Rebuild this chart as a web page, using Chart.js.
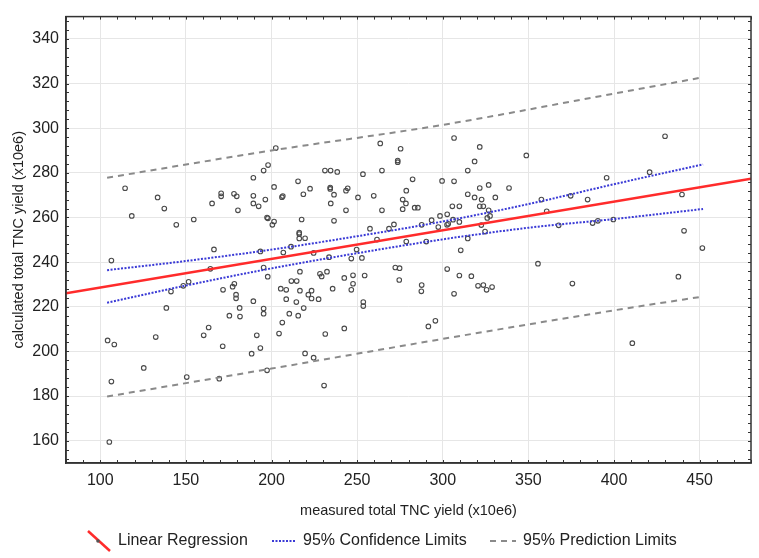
<!DOCTYPE html>
<html>
<head>
<meta charset="utf-8">
<script src="https://cdn.jsdelivr.net/npm/chart.js@4.4.1/dist/chart.umd.min.js"></script>
<style>
  html, body { margin: 0; padding: 0; background: #fff; }
  #wrap { width: 759px; height: 558px; }
</style>
</head>
<body>
<div id="wrap"><canvas id="myChart"></canvas></div>
<script>
// measured vs calculated TNC yield (x10e6)
const measured = [
  114.5, 133.5, 137.4, 118.4, 144.4, 154.6, 165.3, 170.6, 170.6, 178.1, 179.7, 180.4,
  189.4, 189.4, 189.4, 192.5, 196.4, 195.4, 198.0, 197.4, 106.5, 166.4, 164.3, 193.5,
  195.4, 197.8, 151.6, 148.5, 171.7, 178.3, 177.3, 141.3, 138.6, 104.3, 108.2, 132.4,
  125.4, 106.5, 150.5, 169.5, 105.3, 179.3, 179.3, 189.4, 181.4, 175.4, 181.6, 195.4,
  195.4, 163.3, 160.4, 191.4, 171.5, 193.5, 188.4, 197.4,
  202.5, 201.5, 215.5, 222.5, 218.6, 206.1, 206.6, 231.2, 234.5, 238.4, 234.3, 234.3,
  236.5, 234.6, 244.5, 243.5, 253.4, 250.5, 259.7, 263.5, 264.5, 243.5, 236.5, 264.5,
  275.4, 273.7, 273.7, 282.4, 278.7, 276.6, 278.5, 276.6, 283.6, 285.5, 299.6, 197.9,
  201.5, 200.5, 217.6, 216.2, 216.2, 216.2, 219.6, 211.4, 206.9, 224.6, 233.6, 249.7,
  246.6, 252.8, 257.5, 261.6, 268.6, 271.5, 278.7, 287.7, 290.4, 293.5, 298.4, 297.4,
  216.6, 228.3, 229.3, 232.4, 211.6, 214.7, 242.5, 247.6, 247.6, 254.4, 272.3, 274.8,
  274.6, 287.7, 205.4, 208.6, 216.6, 223.4, 235.7, 246.6, 287.5,
  208.6, 214.5, 221.5, 223.4, 227.5, 218.8, 210.4, 215.6, 206.3, 204.4, 231.4, 242.5,
  253.6, 253.6, 219.6, 224.6, 230.7, 291.6, 295.7,
  306.6, 321.6, 318.6, 314.6, 348.8, 306.6, 321.6, 326.8, 338.7, 314.6, 318.6, 322.7,
  330.7, 305.6, 309.7, 321.6, 323.7, 326.8, 302.6, 306.0, 303.2, 302.5, 309.7, 327.6,
  326.0, 322.5, 324.7, 314.6, 310.5, 357.6, 360.7, 367.7, 374.7, 384.6, 395.7, 387.5,
  390.6, 399.6, 355.6, 375.7, 302.6, 309.7, 316.7, 320.6, 323.7, 325.6, 328.8, 306.6,
  429.8, 420.8, 439.7, 440.9, 451.6, 437.6, 410.7
];
const calculated = [
  273.1, 269.0, 264.0, 260.7, 256.7, 259.1, 266.3, 269.5, 270.8, 270.6, 269.5, 263.2,
  277.8, 269.7, 266.3, 265.0, 268.0, 281.0, 283.5, 260.0, 240.7, 245.7, 237.0, 244.8,
  237.6, 233.5, 231.2, 229.4, 227.6, 230.3, 229.0, 226.8, 219.5, 204.9, 203.1, 206.4,
  192.6, 186.5, 188.5, 187.8, 159.4, 225.4, 223.8, 222.5, 219.5, 216.0, 215.6, 219.2,
  216.9, 210.7, 207.2, 207.2, 202.3, 201.5, 199.0, 191.5,
  291.1, 273.7, 276.2, 272.9, 270.4, 269.1, 269.6, 281.0, 281.0, 280.4, 273.4, 272.8,
  270.2, 266.3, 273.1, 272.0, 279.4, 269.0, 269.7, 293.2, 281.0, 263.2, 258.5, 263.2,
  290.8, 284.8, 285.5, 277.1, 272.0, 268.0, 266.3, 263.7, 264.4, 264.4, 276.4, 259.6,
  258.2, 256.7, 259.1, 253.2, 252.6, 250.6, 250.7, 246.9, 244.3, 244.1, 242.2, 245.6,
  241.6, 241.9, 255.0, 250.1, 255.0, 256.9, 249.2, 256.7, 249.2, 258.8, 260.7, 255.7,
  235.7, 234.8, 233.6, 235.7, 231.5, 231.5, 232.9, 234.1, 230.3, 234.0, 237.6, 237.3,
  232.0, 229.7, 228.1, 227.6, 227.2, 227.2, 228.1, 227.6, 226.9,
  223.4, 222.1, 225.4, 223.7, 223.4, 219.4, 216.9, 216.0, 212.9, 208.0, 207.8, 210.3,
  222.1, 220.3, 199.1, 197.2, 184.7, 211.2, 213.7,
  295.6, 291.6, 285.1, 281.0, 287.8, 276.2, 273.2, 274.6, 273.2, 270.4, 269.0, 268.0,
  269.0, 265.0, 265.0, 265.0, 265.0, 263.2, 261.4, 259.0, 257.2, 256.7, 258.0, 260.7,
  259.8, 256.6, 253.7, 250.6, 245.3, 268.0, 262.8, 256.5, 269.7, 268.0, 277.8, 257.5,
  258.5, 259.1, 239.3, 230.4, 236.9, 234.0, 233.7, 229.4, 229.7, 227.6, 228.8, 225.8,
  296.4, 280.3, 270.3, 254.0, 246.3, 233.5, 203.7
];

// fitted line and limits
const fitX = [80, 480];
const fitY = [226.0, 277.4];
const limX = [104, 150, 200, 250, 300, 350, 400, 452];
const confUpper = [236.4, 240.5, 245.6, 251.6, 258.2, 266.0, 274.9, 283.8];
const confLower = [221.8, 229.5, 237.2, 244.0, 250.2, 255.4, 259.3, 263.8];
const predX = [104, 200, 300, 400, 452];
const predUpper = [277.8, 290.0, 301.5, 315.5, 322.8];
const predLower = [179.8, 192.3, 205.6, 218.4, 224.6];

const xTicks = [100, 150, 200, 250, 300, 350, 400, 450];
const yTicks = [160, 180, 200, 220, 240, 260, 280, 300, 320, 340];

const seriesNames = ['Linear Regression', '95% Confidence Limits', '95% Prediction Limits'];

const FONT = "'Liberation Sans', Arial, sans-serif";
const pts = (xs, ys) => xs.map((x, i) => ({ x: x, y: ys[i] }));

const lineSet = (label, data, color, width, dash, order) => ({
  label: label,
  data: data,
  showLine: true,
  borderColor: color,
  borderWidth: width,
  borderDash: dash,
  pointRadius: 0,
  cubicInterpolationMode: 'monotone',
  fill: false,
  order: order
});

// frame on all four sides, inward minor ticks, and the legend row
const framePlugin = {
  id: 'frame',
  afterDraw(chart) {
    const { ctx, chartArea: a, scales } = chart;
    const x = scales.x, y = scales.y;
    ctx.save();
    ctx.strokeStyle = '#333';
    ctx.lineWidth = 1.5;
    ctx.strokeRect(a.left, a.top, a.right - a.left, a.bottom - a.top);

    ctx.lineWidth = 1;
    ctx.beginPath();
    for (let v = 152; v <= 348; v += 4) {
      const py = Math.round(y.getPixelForValue(v)) + 0.5;
      ctx.moveTo(a.left, py); ctx.lineTo(a.left + 3, py);
      ctx.moveTo(a.right, py); ctx.lineTo(a.right - 3, py);
    }
    for (let v = 80; v <= 480; v += 10) {
      const px = Math.round(x.getPixelForValue(v)) + 0.5;
      ctx.moveTo(px, a.top); ctx.lineTo(px, a.top + 3);
      ctx.moveTo(px, a.bottom); ctx.lineTo(px, a.bottom - 3);
    }
    ctx.stroke();

    // legend
    const ly = 541;
    ctx.font = '16px ' + FONT;
    ctx.fillStyle = '#222';
    ctx.textBaseline = 'middle';
    ctx.textAlign = 'left';

    ctx.strokeStyle = '#ff2b2b';
    ctx.lineWidth = 2.5;
    ctx.setLineDash([]);
    ctx.beginPath(); ctx.moveTo(88, 531); ctx.lineTo(110, 551); ctx.stroke();
    ctx.fillStyle = '#555';
    ctx.beginPath(); ctx.arc(98, 541, 1.8, 0, Math.PI * 2); ctx.fill();
    ctx.fillStyle = '#222';
    ctx.fillText(seriesNames[0], 118, ly);

    ctx.strokeStyle = '#3a3ad6';
    ctx.lineWidth = 2;
    ctx.setLineDash([2, 1.5]);
    ctx.beginPath(); ctx.moveTo(272, ly); ctx.lineTo(295, ly); ctx.stroke();
    ctx.fillText(seriesNames[1], 303, ly);

    ctx.strokeStyle = '#8a8a8a';
    ctx.setLineDash([6, 5]);
    ctx.beginPath(); ctx.moveTo(490, ly); ctx.lineTo(516, ly); ctx.stroke();
    ctx.fillText(seriesNames[2], 523, ly);
    ctx.restore();
  }
};

const ctx = document.getElementById('myChart');

new Chart(ctx, {
  type: 'scatter',
  data: {
    datasets: [
      {
        label: 'data',
        data: pts(measured, calculated),
        pointStyle: 'circle',
        pointRadius: 2.3,
        pointBorderWidth: 1.1,
        pointBorderColor: '#4a4a4a',
        pointBackgroundColor: 'rgba(255,255,255,0)',
        order: 10
      },
      lineSet(seriesNames[0], pts(fitX, fitY), '#ff2b2b', 2.5, [], 1),
      lineSet(seriesNames[1], pts(limX, confUpper), '#3a3ad6', 2, [2, 1.5], 2),
      lineSet(seriesNames[1], pts(limX, confLower), '#3a3ad6', 2, [2, 1.5], 2),
      lineSet(seriesNames[2], pts(predX, predUpper), '#8a8a8a', 2, [6, 5], 3),
      lineSet(seriesNames[2], pts(predX, predLower), '#8a8a8a', 2, [6, 5], 3)
    ]
  },
  options: {
    responsive: true,
    maintainAspectRatio: false,
    animation: false,
    layout: { padding: { left: 0, right: 8, top: 9, bottom: 34 } },
    plugins: {
      legend: { display: false },
      tooltip: { enabled: false }
    },
    scales: {
      x: {
        type: 'linear',
        min: 80,
        max: 480,
        afterBuildTicks: (s) => { s.ticks = xTicks.map(v => ({ value: v })); },
        afterFit: (s) => { s.height = 61; },
        grid: { color: '#e6e6e6', drawTicks: false },
        border: { color: '#333', width: 1.5 },
        ticks: { color: '#222', padding: 8, font: { family: FONT, size: 16 } },
        title: {
          display: true,
          text: 'measured total TNC yield (x10e6)',
          color: '#222',
          font: { family: FONT, size: 14.5 },
          padding: { top: 4, bottom: 4 }
        }
      },
      y: {
        type: 'linear',
        min: 150,
        max: 350,
        afterBuildTicks: (s) => { s.ticks = yTicks.map(v => ({ value: v })); },
        afterFit: (s) => { s.width = 66; },
        grid: { color: '#e6e6e6', drawTicks: false },
        border: { color: '#333', width: 1.5 },
        ticks: { color: '#222', padding: 7, font: { family: FONT, size: 16 } },
        title: {
          display: true,
          text: 'calculated total TNC yield (x10e6)',
          color: '#222',
          font: { family: FONT, size: 14.5 },
          padding: { top: 10, bottom: 4 }
        }
      }
    }
  },
  plugins: [framePlugin]
});
</script>
</body>
</html>
